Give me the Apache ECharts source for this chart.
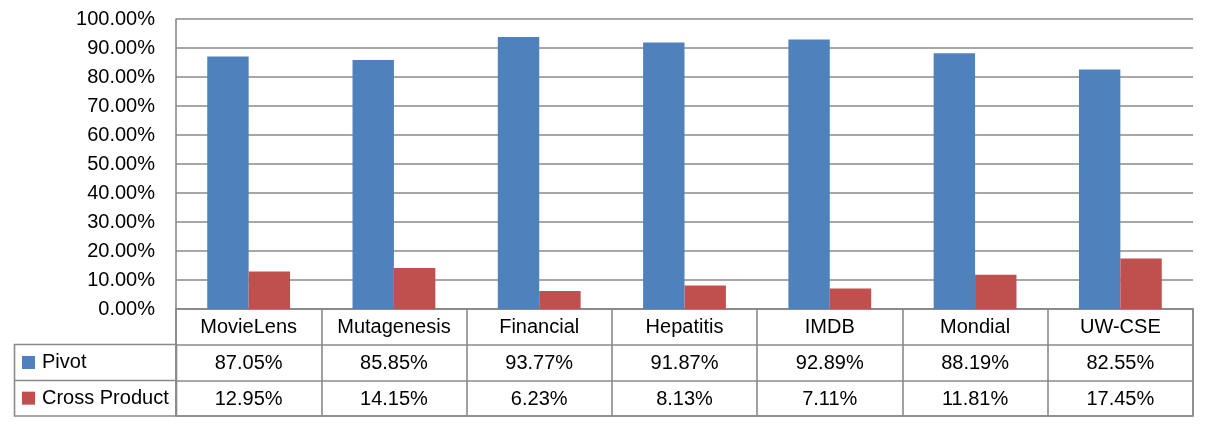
<!DOCTYPE html>
<html>
<head>
<meta charset="utf-8">
<script src="https://cdn.jsdelivr.net/npm/echarts@6/dist/echarts.min.js"></script>
<style>
  html, body { margin: 0; padding: 0; background: #fff; }
  #main { width: 1207px; height: 429px; }
</style>
</head>
<body>
<div id="main"></div>
<script>
var categories = ['MovieLens', 'Mutagenesis', 'Financial', 'Hepatitis', 'IMDB', 'Mondial', 'UW-CSE'];
var pivot = [87.05, 85.85, 93.77, 91.87, 92.89, 88.19, 82.55];
var crossProduct = [12.95, 14.15, 6.23, 8.13, 7.11, 11.81, 17.45];
var seriesNames = ['Pivot', 'Cross Product'];
var colors = ['#4F81BD', '#C0504D'];

var FONT = "'Liberation Sans', Arial, sans-serif";
var lineColor = '#8a8a8a';
var lineW = 1.6;

// cells of the data table under the chart
var tableCells = [];
categories.forEach(function(c, i) {
    tableCells.push([i, 0, c]);
    tableCells.push([i, 1, pivot[i].toFixed(2) + '%']);
    tableCells.push([i, 2, crossProduct[i].toFixed(2) + '%']);
});

var chart = echarts.init(document.getElementById('main'));

chart.setOption({
    backgroundColor: '#fff',
    animation: false,
    textStyle: { fontFamily: FONT },
    grid: [
        { left: 176, top: 19, width: 1017, height: 290 },
        { left: 176, top: 309, width: 1017, height: 107, show: true, borderColor: lineColor, borderWidth: lineW }
    ],
    xAxis: [{
        gridIndex: 0,
        type: 'category',
        data: categories,
        axisLine: { show: true, lineStyle: { color: lineColor, width: lineW } },
        axisTick: { show: false },
        axisLabel: { show: false }
    }, {
        gridIndex: 1,
        type: 'category',
        data: categories,
        axisLine: { show: false },
        axisTick: { show: false },
        axisLabel: { show: false },
        splitLine: { show: true, interval: 0, lineStyle: { color: lineColor, width: lineW } }
    }],
    yAxis: [{
        gridIndex: 0,
        type: 'value',
        min: 0,
        max: 100,
        interval: 10,
        axisLine: { show: true, lineStyle: { color: lineColor, width: lineW } },
        axisTick: { show: false },
        axisLabel: {
            margin: 21,
            color: '#000',
            fontSize: 20,
            fontFamily: FONT,
            formatter: function(v) { return v.toFixed(2) + '%'; }
        },
        splitLine: { lineStyle: { color: lineColor, width: lineW } }
    }, {
        gridIndex: 1,
        type: 'category',
        inverse: true,
        data: ['', seriesNames[0], seriesNames[1]],
        axisLine: { show: false },
        axisTick: { show: false },
        splitLine: { show: true, interval: 0, lineStyle: { color: lineColor, width: lineW } },
        axisLabel: {
            align: 'left',
            margin: 154,
            color: '#000',
            fontSize: 20,
            fontFamily: FONT,
            formatter: function(v, idx) {
                if (idx === 1) return '{a|}{t|' + v + '}';
                if (idx === 2) return '{b|}{t|' + v + '}';
                return '';
            },
            rich: {
                a: { backgroundColor: colors[0], width: 13, height: 13 },
                b: { backgroundColor: colors[1], width: 13, height: 13 },
                t: { fontSize: 20, color: '#000', padding: [0, 0, 0, 7], fontFamily: FONT }
            }
        }
    }],
    series: [{
        name: seriesNames[0],
        type: 'bar',
        xAxisIndex: 0,
        yAxisIndex: 0,
        data: pivot,
        itemStyle: { color: colors[0] },
        barGap: '0%',
        barCategoryGap: '43%'
    }, {
        name: seriesNames[1],
        type: 'bar',
        xAxisIndex: 0,
        yAxisIndex: 0,
        data: crossProduct,
        itemStyle: { color: colors[1] },
        barGap: '0%',
        barCategoryGap: '43%'
    }, {
        type: 'custom',
        xAxisIndex: 1,
        yAxisIndex: 1,
        data: tableCells,
        silent: true,
        renderItem: function(params, api) {
            var p = api.coord([api.value(0), api.value(1)]);
            return {
                type: 'text',
                x: p[0],
                y: p[1] + 1,
                style: {
                    text: tableCells[params.dataIndex][2],
                    fill: '#000',
                    fontSize: 20,
                    fontFamily: FONT,
                    align: 'center',
                    verticalAlign: 'middle'
                }
            };
        }
    }],
    graphic: [{
        type: 'rect',
        shape: { x: 14.5, y: 344.5, width: 162, height: 71.5 },
        style: { fill: 'none', stroke: lineColor, lineWidth: lineW }
    }, {
        type: 'line',
        shape: { x1: 14, y1: 380.5, x2: 176, y2: 380.5 },
        style: { stroke: lineColor, lineWidth: lineW }
    }]
});
</script>
</body>
</html>
